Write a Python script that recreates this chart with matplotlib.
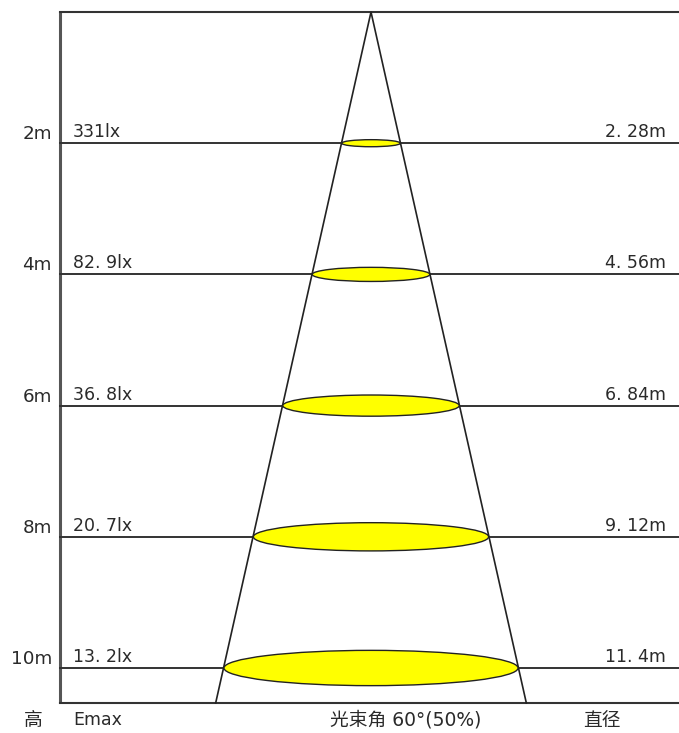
import numpy as np
import matplotlib.pyplot as plt
from matplotlib.patches import Ellipse

# data
heights = [2, 4, 6, 8, 10]
height_labels = ["2m", "4m", "6m", "8m", "10m"]
emax_labels = ["331lx", "82. 9lx", "36. 8lx", "20. 7lx", "13. 2lx"]
diameters = [2.28, 4.56, 6.84, 9.12, 11.4]
diameter_labels = ["2. 28m", "4. 56m", "6. 84m", "9. 12m", "11. 4m"]
beam_angle = 60

plt.rcParams['font.family'] = ['DejaVu Sans', 'Noto Sans CJK SC']

# pixel scale of the picture
W, H = 679, 733
px_x = 25.8     # px per metre (diameter)
px_y = 65.6     # px per metre (height)
cx, top = 371, 12

fig = plt.figure(figsize=(W / 100, H / 100), dpi=100)
ax = fig.add_axes([0, 0, 1, 1])
ax.set_xlim(-cx / px_x, (W - cx) / px_x)
ax.set_ylim((H - top) / px_y, -top / px_y)
ax.set_axis_off()

def X(p):
    return (p - cx) / px_x

h_bottom = (703 - top) / px_y
x_left = X(60)
x_right = X(W)
txt = "#2a2a2a"
fs = 12.5

# frame
ax.plot([x_left, x_left], [0, h_bottom], color="#555555", lw=2.2, solid_capstyle="butt")
ax.plot([x_left, x_right], [0, 0], color="#333333", lw=1.5)
ax.plot([x_left, x_right], [h_bottom, h_bottom], color="#333333", lw=1.5)

# beam cone
half = np.tan(np.radians(beam_angle / 2))
bx = h_bottom * half * 0.99
ax.plot([-bx, 0, bx], [h_bottom, 0, h_bottom], color="#222222", lw=1.2, zorder=3)

for h, hl, el, d, dl in zip(heights, height_labels, emax_labels, diameters, diameter_labels):
    ax.plot([x_left, x_right], [h, h], color="#333333", lw=1.4, zorder=2)
    w_px = d * px_x
    e_h = w_px * 0.12 / px_y
    ax.add_patch(Ellipse((0, h), d, e_h, facecolor="#FFFF00", edgecolor="#222222",
                         lw=1.0, zorder=4))
    ax.text(X(52), h - 4 / px_y, hl, ha="right", va="baseline", fontsize=13.2, color=txt)
    ax.text(X(73), h - 6 / px_y, el, ha="left", va="baseline", fontsize=fs, color=txt)
    ax.text(X(666), h - 6 / px_y, dl, ha="right", va="baseline", fontsize=fs, color=txt)

yb = (720 - top) / px_y
ax.text(X(33), yb, "高", ha="center", va="center", fontsize=13.5, color=txt)
ax.text(X(73), yb, "Emax", ha="left", va="center", fontsize=fs, color=txt)
ax.text(X(406), yb, "光束角 %d°(50%%)" % beam_angle, ha="center", va="center", fontsize=13.5, color=txt)
ax.text(X(602), yb, "直径", ha="center", va="center", fontsize=13.5, color=txt)

fig.savefig("out.png", dpi=100)
